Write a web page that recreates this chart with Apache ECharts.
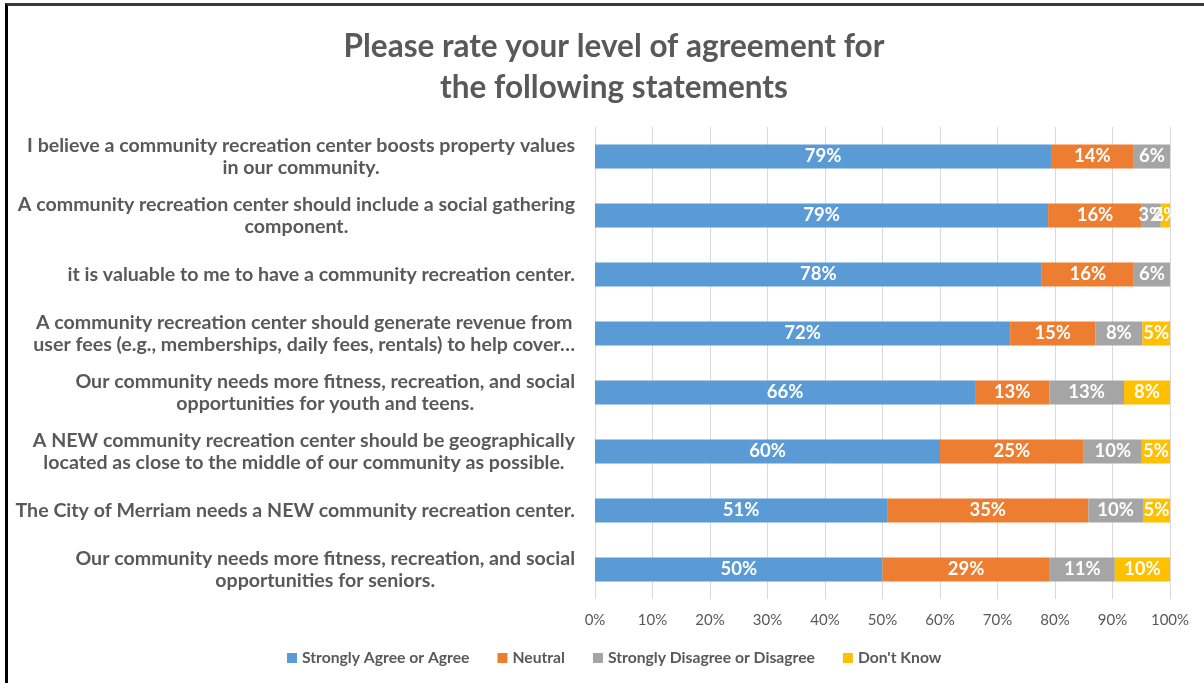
<!DOCTYPE html>
<html>
<head>
<meta charset="utf-8">
<script src="https://cdn.jsdelivr.net/npm/echarts@6/dist/echarts.min.js"></script>
<style>
  html, body { margin: 0; padding: 0; background: #ffffff; }
  #frame { position: absolute; left: 5px; top: 3px; width: 1210px; height: 700px;
           border-top: 3px solid #3a3a3a; border-left: 3px solid #000; box-sizing: border-box; }
  #chart { position: absolute; left: 0; top: 0; width: 1204px; height: 683px; }
</style>
</head>
<body>
<div id="frame"></div>
<div id="chart"></div>
<script>
// Survey statements, top to bottom
const statements = [
  'I believe a community recreation center boosts property values\nin our community.',
  'A community recreation center should include a social gathering\ncomponent.',
  'it is valuable to me to have a community recreation center.',
  'A community recreation center should generate revenue from\nuser fees (e.g., memberships, daily fees, rentals) to help cover…',
  'Our community needs more fitness, recreation, and social\nopportunities for youth and teens.',
  'A NEW community recreation center should be geographically\nlocated as close to the middle of our community as possible.',
  'The City of Merriam needs a NEW community recreation center.',
  'Our community needs more fitness, recreation, and social\nopportunities for seniors.'
];

// Response shares (percent of respondents)
const agree      = [79.3, 78.8, 77.7, 72.2, 66.1, 60.0, 50.8, 50.0];
const neutral    = [14.4, 16.3, 16.0, 14.8, 12.9, 25.0, 35.0, 29.1];
const disagree   = [6.3, 3.3, 6.3, 8.2, 13.0, 10.1, 9.5, 11.3];
const dontKnow   = [0, 1.6, 0, 4.8, 8.0, 4.9, 4.7, 9.6];

const seriesNames = ['Strongly Agree or Agree', 'Neutral', 'Strongly Disagree or Disagree', "Don't Know"];
const seriesColors = ['#5b9bd5', '#ed7d31', '#a5a5a5', '#ffc000'];
const titleText = 'Please rate your level of agreement for\nthe following statements';

const FONT = 'Lato, "Open Sans", sans-serif';
const chart = echarts.init(document.getElementById('chart'), null, { renderer: 'canvas' });

function makeSeries(name, data, color) {
  return {
    name: name,
    type: 'bar',
    stack: 'total',
    data: data.map(v => (v > 0 ? v : null)),
    barWidth: 24,
    itemStyle: { color: color },
    label: {
      show: true,
      position: 'inside',
      color: '#ffffff',
      fontFamily: FONT,
      fontWeight: 'bold',
      fontSize: 18.5,
      formatter: p => Math.round(p.value) + '%'
    },
    emphasis: { disabled: true }
  };
}

chart.setOption({
  animation: false,
  backgroundColor: 'transparent',
  title: {
    text: titleText,
    left: 609,
    top: 21,
    textAlign: 'center',
    textStyle: {
      color: '#595959',
      fontFamily: FONT,
      fontWeight: 'bold',
      fontSize: 31.5,
      lineHeight: 41
    }
  },
  legend: {
    bottom: 12,
    left: 282,
    itemWidth: 10,
    itemHeight: 10,
    itemGap: 28,
    icon: 'rect',
    textStyle: { color: '#595959', fontFamily: FONT, fontWeight: 'bold', fontSize: 15.7 },
    data: seriesNames
  },
  grid: { left: 595, right: 34, top: 127, bottom: 84, containLabel: false },
  xAxis: {
    type: 'value',
    min: 0,
    max: 100,
    interval: 10,
    axisLine: { show: false },
    axisTick: { show: false },
    splitLine: { show: true, lineStyle: { color: '#d9d9d9', width: 1 } },
    axisLabel: {
      color: '#595959',
      fontFamily: FONT,
      fontSize: 15,
      margin: 14,
      formatter: v => v + '%'
    }
  },
  yAxis: {
    type: 'category',
    inverse: true,
    data: statements,
    axisLine: { show: false },
    axisTick: { show: false },
    axisLabel: {
      margin: 20,
      formatter: v => v.split('\n').map(s => '{t|' + s + '}').join('\n'),
      rich: {
        t: {
          align: 'center',
          color: '#595959',
          fontFamily: FONT,
          fontWeight: 'bold',
          fontSize: 19.6,
          lineHeight: 22
        }
      }
    }
  },
  series: [
    makeSeries(seriesNames[0], agree, seriesColors[0]),
    makeSeries(seriesNames[1], neutral, seriesColors[1]),
    makeSeries(seriesNames[2], disagree, seriesColors[2]),
    makeSeries(seriesNames[3], dontKnow, seriesColors[3])
  ]
});
</script>
</body>
</html>
